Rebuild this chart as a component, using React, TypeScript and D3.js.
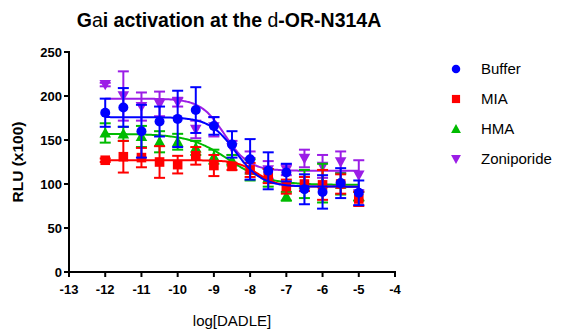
import React from "react";
import * as d3 from "d3";

const doses = [-12, -11.5, -11, -10.5, -10, -9.5, -9, -8.5, -8, -7.5, -7, -6.5, -6, -5.5, -5];

const bufferMean = [181, 187, 160, 171, 174, 184, 166, 145, 128, 115, 113, 94, 91, 101, 90];
const bufferErr = [16, 22, 30, 17, 32, 26, 10, 15, 23, 21, 10, 17, 19, 17, 14];

const miaMean = [127, 131, 130, 125, 122, 132, 121, 120, 116, 109, 97, 100, 99, 100, 83];
const miaErr = [2, 18, 11, 18, 10, 10, 12, 4, 8, 8, 8, 8, 17, 11, 8];

const hmaMean = [158, 157, 154, 148, 148, 141, 131, 127, 116, 107, 86, 100, 101, 100, 86];
const hmaErr = [11, 8, 12, 12, 9, 8, 8, 6, 12, 10, 5, 16, 22, 12, 5];

const zoniMean = [213, 200, 188, 191, 193, 162, 165, 141, 125, 116, 116, 129, 120, 125, 110];
const zoniErr = [2, 28, 16, 14, 5, 10, 11, 8, 12, 10, 6, 10, 13, 12, 17];

// 4PL fit parameters: [top, bottom, logEC50, hill]
const bufferFit = [176, 97, -8.4, 1.2];
const miaFit = [127, 97, -7.8, 1.5];
const hmaFit = [157, 99, -8.6, 0.8];
const zoniFit = [197, 115, -8.7, 1.3];

const seriesNames = ["Buffer", "MIA", "HMA", "Zoniporide"];
const seriesColors = ["#0000ff", "#ff0000", "#00bb00", "#9b1de6"];
const seriesShapes = ["circle", "square", "triangle", "triangleDown"];

const xTicks = [-13, -12, -11, -10, -9, -8, -7, -6, -5, -4];
const yTicks = [0, 50, 100, 150, 200, 250];

const series = [
  { name: seriesNames[0], mean: bufferMean, err: bufferErr, fit: bufferFit, color: seriesColors[0], shape: seriesShapes[0] },
  { name: seriesNames[1], mean: miaMean, err: miaErr, fit: miaFit, color: seriesColors[1], shape: seriesShapes[1] },
  { name: seriesNames[2], mean: hmaMean, err: hmaErr, fit: hmaFit, color: seriesColors[2], shape: seriesShapes[2] },
  { name: seriesNames[3], mean: zoniMean, err: zoniErr, fit: zoniFit, color: seriesColors[3], shape: seriesShapes[3] },
];

const FONT = "'Liberation Sans', Arial, sans-serif";

function Marker({ shape, x, y, color, s = 1 }: { shape: string; x: number; y: number; color: string; s?: number }) {
  if (shape === "circle") return <circle cx={x} cy={y} r={5 * s} fill={color} />;
  if (shape === "square") return <rect x={x - 4.8 * s} y={y - 4.8 * s} width={9.6 * s} height={9.6 * s} fill={color} />;
  if (shape === "triangle") {
    const h = 5.8 * s;
    return <path d={`M${x},${y - h}L${x + h},${y + h * 0.8}L${x - h},${y + h * 0.8}Z`} fill={color} />;
  }
  const h = 5.8 * s;
  return <path d={`M${x},${y + h}L${x + h},${y - h * 0.8}L${x - h},${y - h * 0.8}Z`} fill={color} />;
}

export default function App() {
  const W = 571, H = 335;
  const x = d3.scaleLinear().domain([-13, -4]).range([69, 395]);
  const y = d3.scaleLinear().domain([0, 250]).range([272, 52]);

  const fitFn = (p: number[]) => (lx: number) => p[1] + (p[0] - p[1]) / (1 + Math.pow(10, (lx - p[2]) * p[3]));
  const fitXs = d3.range(-12, -4.99, 0.05);
  const line = d3.line<[number, number]>().x((d) => x(d[0])).y((d) => y(d[1])).curve(d3.curveMonotoneX);

  const drawOrder = [3, 2, 1, 0];

  return (
    <svg width={W} height={H} style={{ position: "absolute", left: 0, top: 0, background: "#fff" }} fontFamily={FONT}>
      {/* Title */}
      <text x={229} y={27} textAnchor="middle" fontSize={19.5} fontWeight="bold" fill="#000">
        <tspan>G</tspan>
        <tspan fontWeight="normal">a</tspan>
        <tspan>i activation at the </tspan>
        <tspan fontWeight="normal">d</tspan>
        <tspan>-OR-N314A</tspan>
      </text>

      {/* series */}
      {drawOrder.map((si) => {
        const s = series[si];
        const f = fitFn(s.fit);
        const pts = fitXs.map((lx) => [lx, f(lx)] as [number, number]);
        return (
          <g key={s.name}>
            <path d={line(pts) || ""} fill="none" stroke={s.color} strokeWidth={2} />
            {doses.map((dx, i) => {
              const cx = x(dx);
              const top = y(s.mean[i] + s.err[i]);
              const bot = y(s.mean[i] - s.err[i]);
              return (
                <g key={i} stroke={s.color} strokeWidth={2}>
                  <line x1={cx} x2={cx} y1={top} y2={bot} />
                  <line x1={cx - 5.5} x2={cx + 5.5} y1={top} y2={top} />
                  <line x1={cx - 5.5} x2={cx + 5.5} y1={bot} y2={bot} />
                </g>
              );
            })}
            {doses.map((dx, i) => (
              <Marker key={"m" + i} shape={s.shape} x={x(dx)} y={y(s.mean[i])} color={s.color} />
            ))}
          </g>
        );
      })}

      {/* axes */}
      <g stroke="#000" strokeWidth={2}>
        <line x1={x(-13)} x2={x(-13)} y1={y(250) - 1} y2={y(0) + 1} />
        <line x1={x(-13) - 1} x2={x(-4) + 1} y1={y(0)} y2={y(0)} />
        {yTicks.map((t) => (
          <line key={"yt" + t} x1={x(-13) - 5} x2={x(-13)} y1={y(t)} y2={y(t)} />
        ))}
        {xTicks.map((t) => (
          <line key={"xt" + t} x1={x(t)} x2={x(t)} y1={y(0)} y2={y(0) + 5} />
        ))}
      </g>
      {yTicks.map((t) => (
        <text key={"yl" + t} x={x(-13) - 7} y={y(t)} dy="0.35em" textAnchor="end" fontSize={13} fontWeight="bold">
          {t}
        </text>
      ))}
      {xTicks.map((t) => (
        <text key={"xl" + t} x={x(t)} y={y(0) + 22} textAnchor="middle" fontSize={13} fontWeight="bold">
          {t}
        </text>
      ))}

      <text x={232} y={326} textAnchor="middle" fontSize={15}>log[DADLE]</text>
      <text transform={`translate(23,${y(125)}) rotate(-90)`} textAnchor="middle" fontSize={15.5} fontWeight="bold">
        RLU (x100)
      </text>

      {/* legend */}
      {series.map((s, i) => (
        <g key={"lg" + i}>
          <Marker shape={s.shape} x={456} y={69 + i * 30} color={s.color} s={0.85} />
          <text x={481} y={69 + i * 30} dy="0.36em" fontSize={15}>
            {s.name}
          </text>
        </g>
      ))}
    </svg>
  );
}
